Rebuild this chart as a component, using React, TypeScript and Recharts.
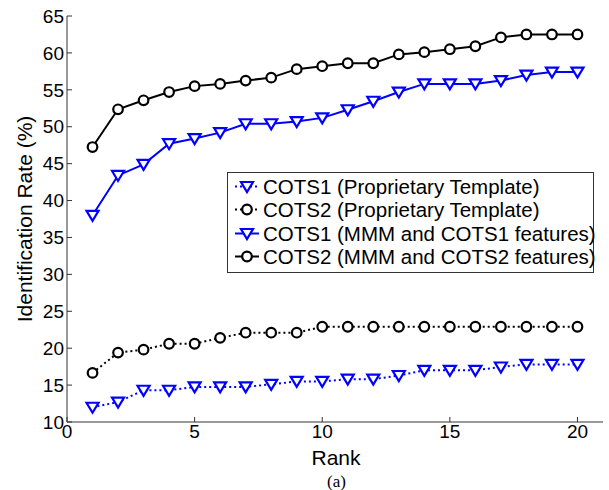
import React from 'react';
import { LineChart, Line, XAxis, YAxis, Legend, Label } from 'recharts';

// Rank 1..20 on the x axis
const ranks = [1, 2, 3, 4, 5, 6, 7, 8, 9, 10, 11, 12, 13, 14, 15, 16, 17, 18, 19, 20];

// Identification rates (%) per rank
const cots1Proprietary = [12.0, 12.7, 14.3, 14.3, 14.75, 14.75, 14.75, 15.1, 15.5, 15.5, 15.8, 15.8, 16.3, 17.0, 17.0, 17.0, 17.45, 17.8, 17.8, 17.8];
const cots2Proprietary = [16.65, 19.4, 19.8, 20.6, 20.6, 21.4, 22.1, 22.1, 22.1, 22.9, 22.9, 22.9, 22.9, 22.9, 22.9, 22.9, 22.9, 22.9, 22.9, 22.9];
const cots1Mmm = [38.0, 43.4, 44.9, 47.7, 48.4, 49.2, 50.4, 50.4, 50.7, 51.2, 52.3, 53.45, 54.7, 55.8, 55.8, 55.8, 56.25, 57.0, 57.4, 57.4];
const cots2Mmm = [47.25, 52.36, 53.58, 54.7, 55.5, 55.8, 56.25, 56.65, 57.8, 58.2, 58.6, 58.6, 59.8, 60.1, 60.5, 60.9, 62.1, 62.5, 62.5, 62.5];

const xTicks = [0, 5, 10, 15, 20];
const yTicks = [10, 15, 20, 25, 30, 35, 40, 45, 50, 55, 60, 65];

const seriesNames = [
  'COTS1 (Proprietary Template)',
  'COTS2 (Proprietary Template)',
  'COTS1 (MMM and COTS1 features)',
  'COTS2 (MMM and COTS2 features)',
];

const data = ranks.map((rank, i) => ({
  rank,
  c1p: cots1Proprietary[i],
  c2p: cots2Proprietary[i],
  c1m: cots1Mmm[i],
  c2m: cots2Mmm[i],
}));

const BLUE = '#0000ff';
const BLACK = '#000000';
const FONT = '"Liberation Sans", Arial, Helvetica, sans-serif';
const AXIS = '#333333';

const TriangleDown = ({ cx, cy, color }: { cx: number; cy: number; color: string }) => (
  <polygon
    points={`${cx - 6},${cy - 4.5} ${cx + 6},${cy - 4.5} ${cx},${cy + 5.5}`}
    fill="#ffffff"
    stroke={color}
    strokeWidth={2.2}
    strokeLinejoin="miter"
  />
);

const Ring = ({ cx, cy, color }: { cx: number; cy: number; color: string }) => (
  <circle cx={cx} cy={cy} r={4.8} fill="#ffffff" stroke={color} strokeWidth={2.2} />
);

const triDot = (props: any) =>
  props.cx == null ? <g key={props.index} /> : (
    <g key={props.index}><TriangleDown cx={props.cx} cy={props.cy} color={BLUE} /></g>
  );
const ringDot = (props: any) =>
  props.cx == null ? <g key={props.index} /> : (
    <g key={props.index}><Ring cx={props.cx} cy={props.cy} color={BLACK} /></g>
  );

const legendRows = [
  { name: seriesNames[0], color: BLUE, dash: '2 3', marker: 'tri' },
  { name: seriesNames[1], color: BLACK, dash: '2 3', marker: 'ring' },
  { name: seriesNames[2], color: BLUE, dash: undefined, marker: 'tri' },
  { name: seriesNames[3], color: BLACK, dash: undefined, marker: 'ring' },
];

const LegendBox = () => (
  <div
    style={{
      boxSizing: 'border-box',
      width: 367,
      height: 101,
      border: `1px solid ${AXIS}`,
      background: '#ffffff',
      paddingTop: 2,
      fontFamily: FONT,
      fontSize: 20.5,
      color: '#000',
    }}
  >
    {legendRows.map((row) => (
      <div key={row.name} style={{ display: 'flex', alignItems: 'center', height: 23.3, whiteSpace: 'nowrap' }}>
        <svg width={35} height={23} style={{ flex: 'none' }}>
          <line x1={7} y1={11.5} x2={31} y2={11.5} stroke={row.color} strokeWidth={2} strokeDasharray={row.dash} />
          {row.marker === 'tri' ? (
            <TriangleDown cx={19} cy={11.5} color={row.color} />
          ) : (
            <Ring cx={19} cy={11.5} color={row.color} />
          )}
        </svg>
        <span style={{ lineHeight: '23px' }}>{row.name}</span>
      </div>
    ))}
  </div>
);

export default function App() {
  return (
    <div style={{ position: 'absolute', left: 0, top: 0, width: 609, height: 490, background: '#fff' }}>
      <LineChart width={609} height={490} data={data} margin={{ top: 16, right: 6, left: 0, bottom: 38 }}>
        <XAxis
          dataKey="rank"
          type="number"
          domain={[0, 21]}
          ticks={xTicks}
          allowDataOverflow
          height={30}
          tickSize={-5}
          tickMargin={8}
          stroke={AXIS}
          tick={{ fill: '#000', fontSize: 19, fontFamily: FONT }}
        >
          <Label
            content={() => (
              <text x={336} y={465} textAnchor="middle" fontSize={21} fontFamily={FONT} fill="#000">
                Rank
              </text>
            )}
          />
        </XAxis>
        <XAxis
          xAxisId="top"
          orientation="top"
          dataKey="rank"
          type="number"
          domain={[0, 21]}
          ticks={xTicks}
          allowDataOverflow
          height={0}
          tickSize={-5}
          tick={false}
          stroke={AXIS}
        />
        <YAxis
          type="number"
          domain={[10, 65]}
          ticks={yTicks}
          allowDataOverflow
          width={67}
          tickSize={-5}
          tickMargin={8}
          stroke={AXIS}
          tick={{ fill: '#000', fontSize: 19, fontFamily: FONT }}
        >
          <Label
            content={({ viewBox }: any) => {
              const cx = 24;
              const cy = viewBox.y + viewBox.height / 2;
              return (
                <text
                  x={cx}
                  y={cy}
                  transform={`rotate(-90 ${cx} ${cy})`}
                  textAnchor="middle"
                  dominantBaseline="central"
                  fontSize={21}
                  fontFamily={FONT}
                  fill="#000"
                >
                  Identification Rate (%)
                </text>
              );
            }}
          />
        </YAxis>
        <YAxis
          yAxisId="right"
          orientation="right"
          type="number"
          domain={[10, 65]}
          ticks={yTicks}
          allowDataOverflow
          width={0}
          tickSize={-5}
          tick={false}
          stroke={AXIS}
        />
        <Legend
          verticalAlign="middle"
          align="center"
          layout="vertical"
          wrapperStyle={{ position: 'absolute', left: 227, top: 172, width: 367, height: 101 }}
          content={() => <LegendBox />}
        />
        <Line
          name={seriesNames[0]}
          type="linear"
          dataKey="c1p"
          stroke={BLUE}
          strokeWidth={2}
          strokeDasharray="2 3"
          dot={triDot}
          activeDot={false}
          isAnimationActive={false}
        />
        <Line
          name={seriesNames[1]}
          type="linear"
          dataKey="c2p"
          stroke={BLACK}
          strokeWidth={2}
          strokeDasharray="2 3"
          dot={ringDot}
          activeDot={false}
          isAnimationActive={false}
        />
        <Line
          name={seriesNames[2]}
          type="linear"
          dataKey="c1m"
          stroke={BLUE}
          strokeWidth={2}
          dot={triDot}
          activeDot={false}
          isAnimationActive={false}
        />
        <Line
          name={seriesNames[3]}
          type="linear"
          dataKey="c2m"
          stroke={BLACK}
          strokeWidth={2}
          dot={ringDot}
          activeDot={false}
          isAnimationActive={false}
        />
      </LineChart>
      <div
        style={{
          position: 'absolute',
          left: 0,
          width: 673,
          top: 472,
          textAlign: 'center',
          fontFamily: '"Liberation Serif", "Times New Roman", serif',
          fontSize: 17,
          lineHeight: '19px',
          color: '#000',
        }}
      >
        (a)
      </div>
    </div>
  );
}
